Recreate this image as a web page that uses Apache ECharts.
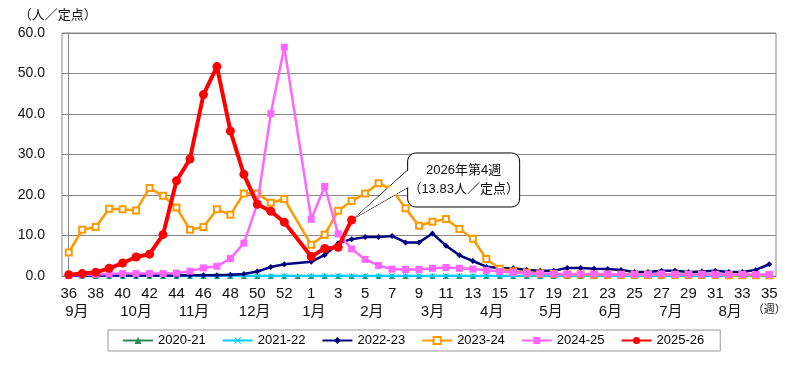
<!DOCTYPE html>
<html><head><meta charset="utf-8">
<script src="https://cdn.jsdelivr.net/npm/echarts@6/dist/echarts.min.js"></script>
<style>html,body{margin:0;padding:0;background:#fff}#c{width:800px;height:366px}</style>
</head><body><div id="c"></div>
<script>
const weeks = ['36','37','38','39','40','41','42','43','44','45','46','47','48','49','50','51','52','53',
  '1','2','3','4','5','6','7','8','9','10','11','12','13','14','15','16','17','18','19','20',
  '21','22','23','24','25','26','27','28','29','30','31','32','33','34','35'];
const seriesNames = ['2020-21','2021-22','2022-23','2023-24','2024-25','2025-26'];
const s2020 = [0,0,0,0,0,0,0,0,0,0,0,0,0,0,0,0,0,0,
  0,0,0,0,0,0,0,0,0,0,0,0,0,0,0,0,0,0,0,0,0,0,0,0,0,0,0,0,0,0,0,0,0,0,0];
const s2021 = [0,0,0,0,0,0,0,0,0,0,0,0,0,0,0,0,0,null,
  0,0,0,0,0,0,0,0,0,0,0,0,0,0,0,0,0,0,0,0,0,0,0,0,0,0,0,0,0,0,0,0,0,0,0];
const s2022 = [0.1,0.1,0.1,0.1,0.1,0.1,0.1,0.1,0.1,0.2,0.2,0.2,0.3,0.5,1.1,2.2,2.9,null,
  3.5,5.2,8.1,9.1,9.6,9.6,9.9,8.3,8.3,10.5,7.5,5.1,3.7,2.3,2.0,1.9,1.5,1.3,1.3,2.0,
  2.0,1.8,1.7,1.5,1.0,1.0,1.3,1.3,1.0,1.1,1.3,1.0,1.0,1.5,2.9];
const s2023 = [5.8,11.4,12.1,16.6,16.5,16.2,21.7,19.8,16.9,11.4,12.1,16.5,15.1,20.4,20.4,18.1,19.0,null,
  7.7,10.2,16.1,18.5,20.4,22.9,21.4,16.7,12.4,13.4,14.1,11.6,9.2,4.2,1.8,1.2,0.8,0.6,0.5,0.4,
  0.4,0.3,0.3,0.3,0.3,0.3,0.3,0.3,0.3,0.3,0.3,0.2,0.2,0.2,0.2];
const s2024 = [0.2,0.3,0.4,0.5,0.6,0.6,0.6,0.6,0.7,1.2,2.0,2.4,4.3,8.1,17.8,40.1,56.5,null,
  14.0,22.1,10.4,6.7,4.1,2.6,1.7,1.6,1.6,1.9,2.1,1.9,1.7,1.4,1.1,0.9,0.7,0.6,0.5,0.5,
  0.5,0.5,0.5,0.4,0.4,0.4,0.5,0.4,0.4,0.4,0.4,0.4,0.4,0.4,0.4];
const s2025 = [0.3,0.6,0.9,1.9,3.2,4.7,5.4,10.2,23.5,28.9,44.8,51.7,35.8,25.1,17.7,16.0,13.3,null,
  4.8,6.8,7.1,13.83];
const yTicks = [0,10,20,30,40,50,60];
const monthNames = ['9月','10月','11月','12月','1月','2月','3月','4月','5月','6月','7月','8月'];
const monthPos = [0.6,5.0,9.3,13.8,18.2,22.5,27.0,31.4,35.8,40.2,44.7,49.1];
const weekUnitLabel = '（週）';
const yAxisTitle = '（人／定点）';
const calloutWeekIndex = 21;
const calloutValue = 13.83;
const calloutLines = ['2026年第4週','（13.83人／定点）'];

const FONT = '"Liberation Sans", Arial, "Noto Sans CJK JP", sans-serif';
const chart = echarts.init(document.getElementById('c'), null, {renderer:'canvas'});

const crossX = 'path://M1,0L5,4L9,0L10,1L6,5L10,9L9,10L5,6L1,10L0,9L4,5L0,1Z';
const styles = [
  {color:'#2e8b57', symbol:'triangle', size:6, width:2},
  {color:'#00ccff', symbol:crossX, size:6, width:2.5},
  {color:'#000080', symbol:'diamond', size:6, width:2.5},
  {color:'#ff9900', symbol:'emptyRect', size:6, width:2.5},
  {color:'#ff66ff', symbol:'rect', size:7, width:2.5},
  {color:'#ff0000', symbol:'circle', size:9, width:4}
];
const datas = [s2020,s2021,s2022,s2023,s2024,s2025];

const series = datas.map((d,i)=>({
  name: seriesNames[i], type:'line', data:d, connectNulls:true,
  symbol: styles[i].symbol, symbolSize: styles[i].size, showSymbol:true, showAllSymbol:true,
  lineStyle:{color:styles[i].color, width:styles[i].width},
  itemStyle:{color:styles[i].color, borderColor:styles[i].color, borderWidth: i===3?1.2:0},
  xAxisIndex:0, yAxisIndex:0, z: 2+i, animation:false
}));

chart.setOption({
  animation:false,
  textStyle:{fontFamily:FONT},
  grid:{left:62, right:24, top:33, bottom:90, show:true, borderColor:'#888', borderWidth:1, backgroundColor:'transparent'},
  legend:{
    data: seriesNames, left:108, top:330, orient:'horizontal',
    itemWidth:30, itemHeight:9, itemGap:16,
    padding:[4,16,4,14], borderColor:'#999', borderWidth:1,
    textStyle:{fontFamily:FONT, fontSize:13, color:'#000'}
  },
  xAxis:[{
    type:'category', data:weeks, boundaryGap:true,
    axisLine:{show:true, lineStyle:{color:'#888'}},
    axisTick:{show:false},
    axisLabel:{interval:1, fontSize:15, color:'#111', margin:10, fontFamily:FONT}
  },{
    type:'value', min:-0.5, max:52.5, position:'bottom', offset:18,
    axisLine:{show:false}, axisTick:{show:false}, splitLine:{show:false},
    axisLabel:{
      customValues: monthPos.concat([52]), fontSize:15, color:'#111', margin:10, fontFamily:FONT,
      formatter:(v)=>{
        if (Math.abs(v-52)<0.01) return '{u|'+weekUnitLabel+'}';
        for (let k=0;k<monthPos.length;k++) if (Math.abs(monthPos[k]-v)<0.01) return monthNames[k];
        return '';
      },
      rich:{u:{fontSize:11, color:'#111', fontFamily:FONT, padding:[0,0,8,0]}}
    }
  }],
  yAxis:{
    type:'value', min:0, max:60, interval:10,
    name: yAxisTitle, nameLocation:'end', nameGap:11,
    nameTextStyle:{fontSize:13, color:'#111', fontFamily:FONT, padding:[0,22,0,0]},
    axisLine:{show:true, lineStyle:{color:'#888'}},
    axisTick:{show:false},
    splitLine:{show:true, lineStyle:{color:'#888', width:1}},
    axisLabel:{fontSize:14, color:'#111', margin:17, fontFamily:FONT, formatter:(v)=>v.toFixed(1)}
  },
  series: series
});

const p = chart.convertToPixel({xAxisIndex:0, yAxisIndex:0}, [calloutWeekIndex, calloutValue]);
const bx = p[0]+56, by = p[1]-67, bw = 112, bh = 54;
chart.setOption({
  graphic:[
    {type:'polygon', z:1, shape:{points:[[p[0]+3,p[1]-2],[bx+1,by+bh-38],[bx+1,by+bh-20]]},
     style:{fill:'#fff', stroke:'#000', lineWidth:1}},
    {type:'rect', z:10, shape:{x:bx, y:by, width:bw, height:bh, r:8},
     style:{fill:'#fff', stroke:'#000', lineWidth:1}},
    {type:'polygon', z:11, shape:{points:[[p[0]+3,p[1]-2],[bx+1.5,by+bh-37.5],[bx+1.5,by+bh-20.5]]},
     style:{fill:'#fff', stroke:null}},
    {type:'text', z:12, x:bx+bw/2, y:by+bh/2,
     style:{text:calloutLines.join('\n'), fontSize:13, lineHeight:19, fill:'#111', fontFamily:FONT,
            align:'center', verticalAlign:'middle'}}
  ]
});
</script></body></html>
